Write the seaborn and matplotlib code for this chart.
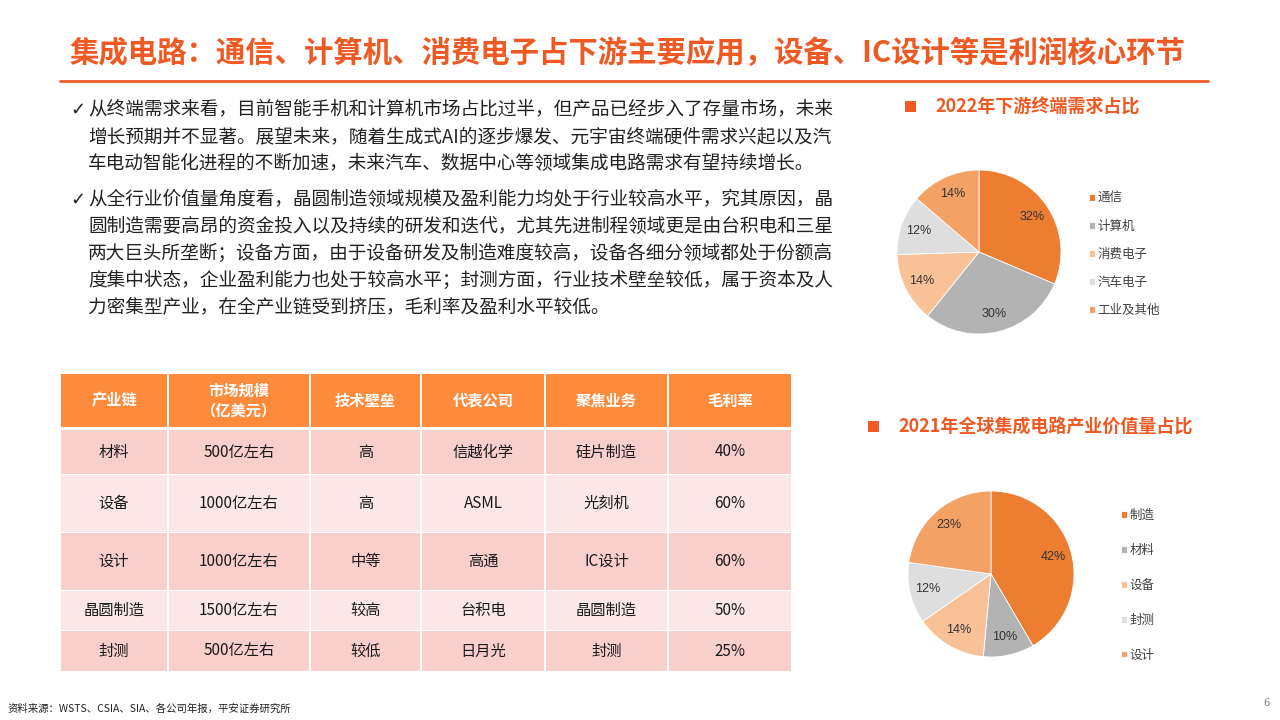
import numpy as np
import pandas as pd
import seaborn as sns
import matplotlib.pyplot as plt
from matplotlib.patches import Rectangle

# ---- data ----
title = "集成电路：通信、计算机、消费电子占下游主要应用，设备、IC设计等是利润核心环节"

para1_lines = [
    "从终端需求来看，目前智能手机和计算机市场占比过半，但产品已经步入了存量市场，未来",
    "增长预期并不显著。展望未来，随着生成式AI的逐步爆发、元宇宙终端硬件需求兴起以及汽",
    "车电动智能化进程的不断加速，未来汽车、数据中心等领域集成电路需求有望持续增长。",
]
para2_lines = [
    "从全行业价值量角度看，晶圆制造领域规模及盈利能力均处于行业较高水平，究其原因，晶",
    "圆制造需要高昂的资金投入以及持续的研发和迭代，尤其先进制程领域更是由台积电和三星",
    "两大巨头所垄断；设备方面，由于设备研发及制造难度较高，设备各细分领域都处于份额高",
    "度集中状态，企业盈利能力也处于较高水平；封测方面，行业技术壁垒较低，属于资本及人",
    "力密集型产业，在全产业链受到挤压，毛利率及盈利水平较低。",
]

# 2022年下游终端需求占比
demand_title = "2022年下游终端需求占比"
demand_labels = ["通信", "计算机", "消费电子", "汽车电子", "工业及其他"]
demand_share = [32, 30, 14, 12, 14]

# 2021年全球集成电路产业价值量占比
value_title = "2021年全球集成电路产业价值量占比"
value_labels = ["制造", "材料", "设备", "封测", "设计"]
value_share = [42, 10, 14, 12, 23]

# table
table_header = ["产业链", "市场规模\n（亿美元）", "技术壁垒", "代表公司", "聚焦业务", "毛利率"]
chain = ["材料", "设备", "设计", "晶圆制造", "封测"]
market_size = ["500亿左右", "1000亿左右", "1000亿左右", "1500亿左右", "500亿左右"]
barrier = ["高", "高", "中等", "较高", "较低"]
company = ["信越化学", "ASML", "高通", "台积电", "日月光"]
focus = ["硅片制造", "光刻机", "IC设计", "晶圆制造", "封测"]
margin = ["40%", "60%", "60%", "50%", "25%"]

source = "资料来源：WSTS、CSIA、SIA、各公司年报，平安证券研究所"
page_no = "6"

# ---- style ----
sns.set_theme(style="white")
plt.rcParams['font.family'] = ['Noto Sans CJK SC', 'DejaVu Sans']

RED = "#EF5A24"
pie_colors = sns.color_palette(["#ED7D31", "#B3B3B3", "#F8C198", "#DEDEDE", "#F3A165"])

fig = plt.figure(figsize=(12.8, 7.2), dpi=100)
bg = fig.add_axes([0, 0, 1, 1])
bg.set_xlim(0, 1280)
bg.set_ylim(720, 0)
bg.axis('off')

# title + rule
bg.text(70, 53, title, fontsize=21.2, fontweight='bold', color=RED, va='center')
bg.plot([60, 1208], [81, 81], color=RED, lw=2)

# body text
def paragraph(lines, y0, step=26.8):
    bg.text(70, y0, "✓", fontsize=13, color="#222222", va='center', family=['DejaVu Sans'])
    for i, line in enumerate(lines):
        bg.text(88, y0 + i * step, line, fontsize=13.45, color="#222222", va='center')

paragraph(para1_lines, 110)
paragraph(para2_lines, 200)

# ---- table ----
df = pd.DataFrame({"产业链": chain, "市场规模": market_size, "技术壁垒": barrier,
                   "代表公司": company, "聚焦业务": focus, "毛利率": margin})
col_edges = [60, 168, 310, 421, 545, 668, 792]
row_edges = [(374, 427), (430, 474), (475, 532), (533, 590), (591, 630), (631, 671)]
row_fill = ["#F8CFCB", "#FBE8E6"]

def cell(c, r0, r1, color):
    x0, x1 = col_edges[c] + 0.8, col_edges[c + 1] - 0.8
    bg.add_patch(Rectangle((x0, r0), x1 - x0, r1 - r0, facecolor=color, edgecolor='none'))
    return (x0 + x1) / 2, (r0 + r1) / 2

for c, h in enumerate(table_header):
    cx, cy = cell(c, *row_edges[0], "#FD8B3B")
    bg.text(cx, cy, h, fontsize=11, fontweight='bold', color='white',
            ha='center', va='center', linespacing=1.25)

for r, row in enumerate(df.itertuples(index=False)):
    r0, r1 = row_edges[r + 1]
    for c, val in enumerate(row):
        cx, cy = cell(c, r0, r1, row_fill[r % 2])
        bg.text(cx, cy, val, fontsize=11, color="#1a1a1a", ha='center', va='center')

# ---- pies ----
def draw_pie(cx, cy, rad, shares, labels, ttl, ttl_x, ttl_y, leg_x, leg_y, spacing):
    m = 1.02
    ax = fig.add_axes([(cx - rad * m) / 1280, (720 - cy - rad * m) / 720,
                       2 * rad * m / 1280, 2 * rad * m / 720])
    wedges, _, autotexts = ax.pie(shares, colors=pie_colors, startangle=90, counterclock=False,
                                  autopct='%d', pctdistance=0.78,
                                  wedgeprops=dict(edgecolor='white', linewidth=0.6),
                                  textprops=dict(fontsize=9, color="#333333",
                                                 family=['Liberation Sans', 'DejaVu Sans']))
    for t, v in zip(autotexts, shares):
        t.set_text(f"{v}%")
    ax.set_xlim(-m, m)
    ax.set_ylim(-m, m)
    ax.legend(wedges, labels, loc='upper left', bbox_to_anchor=(leg_x / 1280, 1 - leg_y / 720),
              bbox_transform=fig.transFigure, frameon=False, fontsize=9, labelcolor="#404040",
              handlelength=0.45, handleheight=0.45, handletextpad=0.25,
              labelspacing=spacing, borderpad=0, borderaxespad=0)
    bg.add_patch(Rectangle((ttl_x - 30, ttl_y - 6), 11, 11, facecolor=RED, edgecolor='none'))
    bg.text(ttl_x, ttl_y, ttl, fontsize=13, fontweight='bold', color=RED, va='center')

draw_pie(979, 252, 82, demand_share, demand_labels, demand_title, 935, 107, 1089, 192, 1.2)
draw_pie(991, 574, 83, value_share, value_labels, value_title, 898, 427, 1121, 509, 1.75)

# footer
bg.text(8, 709, source, fontsize=7.5, color="#222222", va='center')
bg.text(1270, 703, page_no, fontsize=8, color="#888888", ha='right', va='center')

fig.savefig("out.png", dpi=100)
